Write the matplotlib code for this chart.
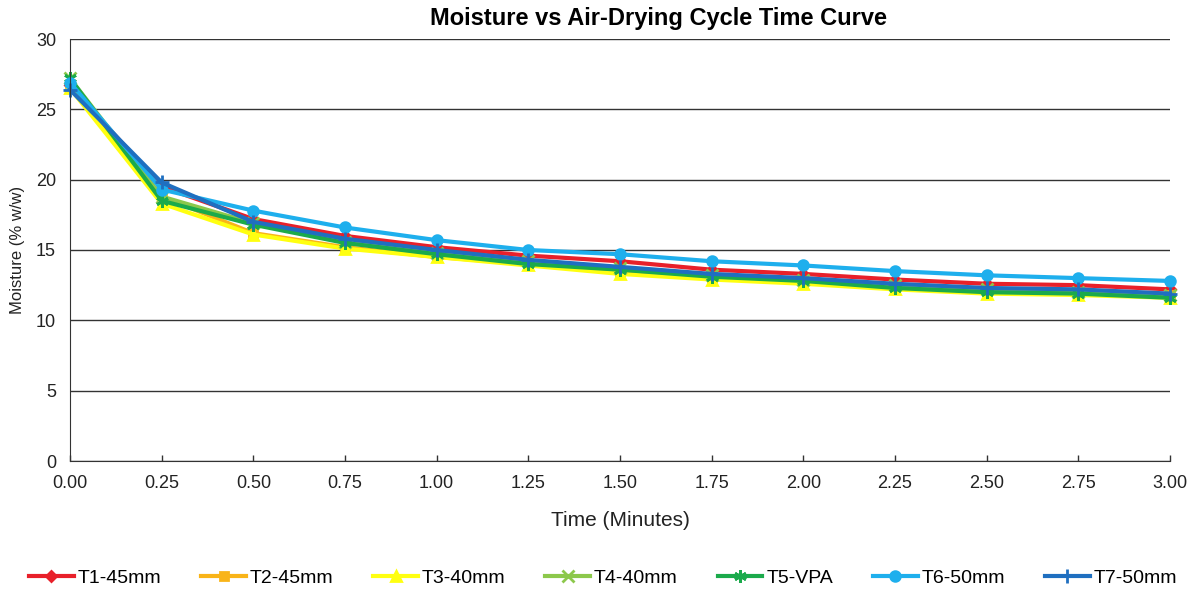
import matplotlib
matplotlib.use("Agg")
import matplotlib.pyplot as plt
import numpy as np

plt.rcParams['font.family'] = ['Liberation Sans', 'DejaVu Sans']

time = [0.0, 0.25, 0.5, 0.75, 1.0, 1.25, 1.5, 1.75, 2.0, 2.25, 2.5, 2.75, 3.0]
x_ticklabels = ["0.00", "0.25", "0.50", "0.75", "1.00", "1.25", "1.50", "1.75", "2.00", "2.25", "2.50", "2.75", "3.00"]

t1 = [26.7, 19.5, 17.2, 16.0, 15.2, 14.6, 14.2, 13.6, 13.3, 12.9, 12.6, 12.5, 12.2]
t2 = [26.6, 18.8, 16.2, 15.2, 14.5, 14.0, 13.5, 13.1, 12.8, 12.4, 12.1, 12.0, 11.8]
t3 = [26.5, 18.3, 16.1, 15.1, 14.5, 13.9, 13.3, 12.9, 12.6, 12.2, 11.9, 11.8, 11.6]
t4 = [27.2, 18.8, 16.9, 15.6, 14.8, 14.2, 13.7, 13.2, 12.9, 12.5, 12.2, 12.0, 11.8]
t5 = [27.2, 18.5, 16.8, 15.5, 14.7, 14.0, 13.6, 13.1, 12.8, 12.3, 12.0, 11.9, 11.6]
t6 = [26.9, 19.3, 17.8, 16.6, 15.7, 15.0, 14.7, 14.2, 13.9, 13.5, 13.2, 13.0, 12.8]
t7 = [26.4, 19.8, 17.0, 15.8, 15.0, 14.3, 13.8, 13.3, 13.0, 12.6, 12.3, 12.2, 11.9]

labels = ["T1-45mm", "T2-45mm", "T3-40mm", "T4-40mm", "T5-VPA", "T6-50mm", "T7-50mm"]
series = [t1, t2, t3, t4, t5, t6, t7]
colors = ["#E8202A", "#F9B418", "#FFFF10", "#8CC84B", "#1BAA4B", "#1EAFED", "#1F6FC0"]
markers = ["D", "s", "^", "x", (6, 2, 0), "o", "+"]
msizes = [5, 6, 7, 8, 9, 7, 10]

fig = plt.figure(figsize=(11.95, 5.92), dpi=100)
ax = fig.add_axes([70/1195, 1-461/592, 1100/1195, 422/592])

for y, lab, c, m, ms in zip(series, labels, colors, markers, msizes):
    ax.plot(time, y, color=c, lw=3, marker=m, markersize=ms, markeredgewidth=2,
            markerfacecolor=c, markeredgecolor=c, label=lab, solid_joinstyle='round',
            clip_on=False)

ax.set_xlim(0, 3.0)
ax.set_ylim(0, 30)
ax.set_xticks(time)
ax.set_xticklabels(x_ticklabels)
ax.set_yticks([0, 5, 10, 15, 20, 25, 30])
ax.tick_params(axis='y', length=0, labelsize=13, pad=10, labelcolor='#222222')
ax.tick_params(axis='x', length=4, direction='in', width=1, color='#333333',
               labelsize=13, pad=10, labelcolor='#222222')
ax.grid(axis='y', color='#333333', lw=1)
ax.set_axisbelow(True)
for s in ['top', 'right']:
    ax.spines[s].set_visible(False)
ax.spines['left'].set_color('#333333')
ax.spines['bottom'].set_color('#333333')

ax.set_xlabel("Time (Minutes)", fontsize=15, labelpad=14, color='#222222')
ax.set_ylabel("Moisture (% w/w)", fontsize=12, labelpad=8, color='#222222')
fig.text(659/1195, 1-18/592, "Moisture vs Air-Drying Cycle Time Curve", ha='center', va='center',
         fontsize=17, fontweight='bold')

leg = fig.legend(loc='center', bbox_to_anchor=(603/1195, 1-578/592), ncol=7, frameon=False,
                 fontsize=14, handlelength=2.3, columnspacing=2.05, handletextpad=0.2)

fig.savefig("out.png", dpi=100)
